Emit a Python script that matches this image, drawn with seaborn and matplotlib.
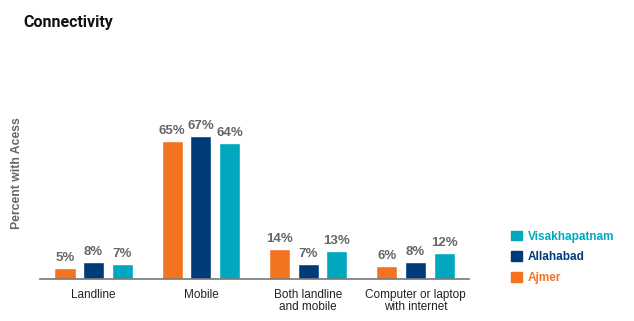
import matplotlib
matplotlib.use("Agg")
import matplotlib.pyplot as plt
import seaborn as sns
import pandas as pd
from matplotlib.patches import Patch

categories = ["Landline", "Mobile", "Both landline\nand mobile", "Computer or laptop\nwith internet"]
cities = ["Ajmer", "Allahabad", "Visakhapatnam"]
ajmer = [5, 65, 14, 6]
allahabad = [8, 67, 7, 8]
visakhapatnam = [7, 64, 13, 12]
colors = ["#F47321", "#003B79", "#00A8BF"]

rows = []
for city, vals in zip(cities, [ajmer, allahabad, visakhapatnam]):
    for c, v in zip(categories, vals):
        rows.append({"category": c, "city": city, "value": v})
df = pd.DataFrame(rows)

sns.set_theme(style="white")
plt.rcParams["font.family"] = ["Liberation Sans", "DejaVu Sans"]

fig = plt.figure(figsize=(6.34, 3.21), dpi=100)
ax = fig.add_axes([0.063, 0.131, 0.677, 0.53])
sns.barplot(data=df, x="category", y="value", hue="city", hue_order=cities,
            order=categories, palette=colors, width=0.8, gap=0.26,
            saturation=1, legend=False, ax=ax)
for cont in ax.containers:
    ax.bar_label(cont, labels=[f"{int(v)}%" for v in cont.datavalues],
                 padding=3, fontsize=9.5, fontweight="bold", color="#666666")

ax.set_xlim(-0.5, 3.5)
ax.set_ylim(0, 80)
ax.set_yticks([])
ax.set_xlabel("")
ax.set_ylabel("Percent with Acess", fontsize=8.8, fontweight="bold", color="#666666")
ax.yaxis.set_label_coords(-0.04, 0.62)
for s in ["top", "right", "left"]:
    ax.spines[s].set_visible(False)
ax.spines["bottom"].set_color("#777777")
ax.spines["bottom"].set_linewidth(1.2)
ax.tick_params(axis="x", length=0, pad=7, labelsize=8.5, labelcolor="#222222")
for lbl in ax.get_xticklabels():
    lbl.set_linespacing(1.0)

handles = [Patch(color=colors[i], label=cities[i]) for i in [2, 1, 0]]
leg = fig.legend(handles=handles, loc="upper left", bbox_to_anchor=(0.79, 0.315),
                 frameon=False, handlelength=0.9, handleheight=0.9, handletextpad=0.5,
                 labelspacing=0.75, prop={"weight": "bold", "size": 8.5})
for t, i in zip(leg.get_texts(), [2, 1, 0]):
    t.set_color(colors[i])

fig.text(0.037, 0.915, "Connectivity", fontsize=11.5, fontweight="bold", color="#111111",
         family=["Roboto", "DejaVu Sans"])

fig.savefig("out.png", dpi=100)
